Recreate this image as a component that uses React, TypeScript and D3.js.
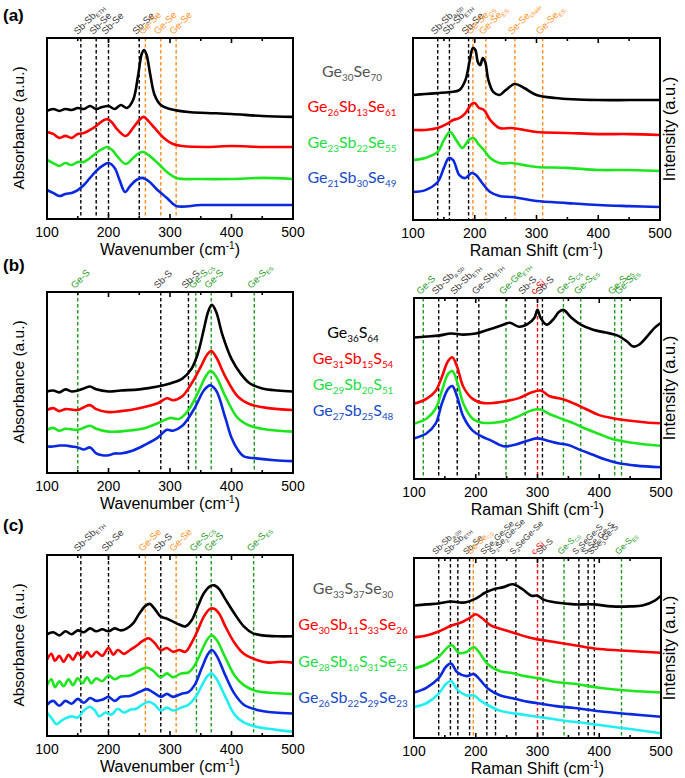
import React from 'react';
import * as d3 from 'd3';

type Pt = [number, number];

// ---------------- DATA (wavenumber / Raman shift in cm-1, intensity in a.u.) ----------------
const X_TICKS = [100, 200, 300, 400, 500];

// (a) FTIR
const aFtirGeSe: Pt[] = [[100,59.7],[110,60.8],[120,59.7],[130,60.8],[140,60.2],[150,61.3],[160,60.8],[170,62.4],[180,60.8],[190,61.9],[200,62.4],[210,60.8],[220,63],[230,61.3],[240,65.7],[248,79],[254,91.2],[258,93.4],[262,90.6],[268,79.6],[275,68.5],[285,63],[300,60.8],[330,59.1],[360,58.6],[400,58],[450,56.9],[500,56.4]];
const aFtirSb13: Pt[] = [[100,48.1],[110,47],[120,44.8],[130,45.9],[140,44.8],[150,47],[160,47.5],[170,49.2],[180,51.4],[190,54.1],[198,55.2],[205,53.6],[215,49.2],[228,45.9],[240,50.3],[250,54.7],[257,56.4],[265,54.1],[275,50.3],[290,44.8],[305,41.4],[320,40.3],[360,39.8],[400,40.3],[450,39.8],[500,39.8]];
const aFtirSb22: Pt[] = [[100,32.6],[110,30.9],[120,29.3],[130,30.9],[140,29.8],[150,31.5],[160,31.5],[170,33.7],[180,36.5],[190,38.7],[198,39.8],[206,38.1],[215,34.3],[228,30.4],[240,33.7],[250,36.5],[257,37],[265,35.4],[280,30.9],[295,26],[310,22.7],[350,22.1],[400,22.1],[450,22.7],[500,22.1]];
const aFtirSb30: Pt[] = [[100,16],[110,14.4],[120,12.7],[130,13.8],[140,14.4],[150,16],[160,18.8],[170,22.7],[180,26.5],[190,29.3],[200,30.9],[210,28.2],[218,21.5],[227,14.9],[235,18.2],[245,21.5],[255,22.7],[265,21],[278,16.6],[295,11.6],[310,7.2],[350,7.7],[400,7.7],[450,7.7],[500,7.7]];
// (a) Raman
const aRamGeSe: Pt[] = [[100,69.7],[120,70.2],[140,70.7],[160,71.3],[175,72.3],[185,77.7],[192,88.3],[197,94.7],[201,93.6],[205,87.2],[209,85.6],[213,89.4],[217,87.2],[222,77.7],[230,71.3],[240,69.7],[250,72.3],[265,75.5],[280,73.4],[300,69.7],[330,68.1],[400,67],[450,67],[500,67]];
const aRamSb13: Pt[] = [[100,51.1],[120,51.1],[140,52.1],[155,54.3],[165,56.4],[175,57.4],[185,60.1],[195,64.9],[200,65.4],[207,62.8],[215,61.7],[225,56.4],[240,52.1],[260,52.1],[280,51.1],[300,50],[350,49.5],[400,48.9],[450,48.9],[500,48.4]];
const aRamSb22: Pt[] = [[100,35.1],[120,36.2],[140,39.4],[150,45.7],[160,50],[170,45.7],[180,41.5],[190,45.7],[198,46.8],[207,43.1],[215,40.4],[225,36.2],[240,33.5],[260,33.5],[280,32.4],[300,31.4],[350,30.9],[400,29.8],[450,29.8],[500,29.3]];
const aRamSb30: Pt[] = [[100,18.1],[120,19.1],[140,23.4],[150,30.9],[158,36.2],[165,35.1],[175,27.1],[185,25.5],[195,28.2],[202,27.1],[212,22.9],[225,18.1],[240,16],[260,15.4],[280,14.4],[300,13.3],[350,12.2],[400,11.2],[450,10.6],[500,10.1]];

// (b) FTIR
const bFtirGeS: Pt[] = [[100,47.1],[110,47.6],[120,46.6],[130,48.2],[140,47.1],[150,47.6],[160,48.7],[170,49.7],[180,48.2],[200,47.1],[220,47.6],[250,48.2],[280,49.7],[300,51.3],[320,53.9],[335,59.2],[345,67],[355,80.1],[362,89.5],[368,93.2],[375,89.5],[385,77.5],[400,64.4],[415,56.5],[430,51.3],[450,48.7],[475,47.6],[500,47.1]];
const bFtirSb15: Pt[] = [[100,37.2],[110,38.2],[120,36.6],[130,37.7],[150,37.2],[160,38.7],[170,39.8],[180,37.7],[200,36.1],[220,36.6],[250,38.2],[280,40.8],[295,43.5],[305,42.4],[320,44.5],[335,51.3],[350,60.2],[360,66.5],[367,68.6],[375,65.4],[390,55],[410,44.5],[430,40.3],[460,38.2],[500,37.2]];
const bFtirSb20: Pt[] = [[100,26.7],[110,27.7],[120,26.2],[130,27.2],[150,26.7],[170,28.8],[180,27.2],[200,25.7],[230,26.2],[260,27.7],[285,30.9],[300,33],[315,32.5],[330,37.2],[345,46.1],[358,55],[366,58.1],[375,55],[390,44.5],[410,33],[430,28.8],[460,26.7],[500,25.7]];
const bFtirSb25: Pt[] = [[100,17.8],[110,17.8],[120,18.3],[130,18.3],[140,17.8],[150,17.3],[160,16.2],[170,17.3],[180,14.1],[190,13.1],[200,13.1],[210,14.1],[220,14.1],[240,15.7],[260,18.8],[280,22.5],[295,26.7],[305,26.2],[320,28.8],[340,38.2],[355,47.6],[365,50.3],[375,47.6],[390,33],[400,22.5],[410,16.2],[420,12.5],[440,11.5],[470,10.5],[500,10]];
// (b) Raman
const bRamGeS: Pt[] = [[100,79.1],[120,79.6],[140,80.1],[160,81.2],[180,80.6],[200,81.2],[220,83.2],[240,85.3],[255,86.9],[270,84.8],[285,86.4],[295,89.5],[300,93.7],[305,89.5],[315,85.9],[325,88.5],[335,92.7],[342,93.7],[355,89.5],[370,85.9],[390,83.2],[410,81.7],[430,80.1],[445,77],[455,74.3],[465,75.4],[480,80.6],[490,84.3],[500,86.9]];
const bRamSb15: Pt[] = [[100,44],[120,46.6],[135,50.8],[145,58.1],[155,66.5],[162,68.6],[170,63.4],[180,52.9],[195,46.6],[210,44.5],[230,44.5],[250,45.5],[270,47],[290,50],[305,51],[320,48],[340,46.5],[360,44],[380,41],[400,38],[420,36.5],[450,35],[480,34],[500,33.7]];
const bRamSb20: Pt[] = [[100,33.5],[120,36.1],[135,41.4],[145,50.8],[155,59.7],[162,61.3],[170,55.5],[180,44],[195,36.1],[210,34],[230,34],[250,35],[270,37.5],[290,40.5],[305,41],[320,38.5],[340,36],[360,33.5],[380,30.5],[400,28],[420,25.5],[450,23.5],[480,22.3],[500,21.8]];
const bRamSb25: Pt[] = [[100,25.7],[120,28.3],[135,33.5],[145,44],[155,51.8],[162,53.4],[170,47.6],[180,37.2],[195,29.8],[210,26.7],[225,24.5],[245,21.5],[265,22.5],[285,24.6],[300,25.7],[315,24.6],[335,23],[350,22.2],[370,19.5],[390,17],[410,14.5],[430,12.7],[460,11.3],[500,10.4]];

// (c) FTIR
const cFtirGeSSe: Pt[] = [[100,56.7],[110,57.8],[120,56.1],[130,58.3],[140,56.7],[150,58.8],[160,57.8],[170,59.9],[180,58.3],[190,59.4],[200,58.3],[210,59.9],[220,58.8],[230,59.9],[240,62.6],[250,67.9],[260,72.2],[267,73.3],[275,70.6],[285,66.3],[295,65.2],[305,63.6],[315,62],[325,61],[335,64.2],[345,71.7],[355,79.1],[365,82.9],[372,83.4],[380,81.3],[390,75.9],[405,67.9],[420,61],[435,57.2],[450,56.1],[475,55.6],[500,55.6]];
const cFtirSb11: Pt[] = [[100,42.8],[107,46],[113,42.2],[120,44.9],[127,41.7],[135,45.5],[142,42.8],[150,46.5],[158,43.9],[165,47.1],[172,44.4],[180,47.1],[190,44.9],[200,49.2],[208,45.5],[215,48.1],[225,46],[235,48.1],[245,50.3],[255,52.9],[265,54.5],[275,51.9],[285,48.1],[295,49.2],[305,47.1],[315,48.1],[325,47.1],[335,51.9],[345,58.8],[355,66.3],[365,70.6],[372,70.6],[380,67.9],[390,61],[405,51.9],[420,46],[440,42.8],[460,41.2],[480,41.7],[500,41.2]];
const cFtirSb16: Pt[] = [[100,28.9],[107,32.1],[113,27.8],[120,31],[127,28.3],[135,32.1],[142,28.9],[150,32.6],[158,29.9],[165,33.2],[172,29.9],[180,32.6],[190,31],[200,34.2],[210,32.1],[220,33.7],[235,34.2],[250,36.9],[262,38.5],[272,36.9],[285,33.2],[295,35.3],[305,33.2],[318,35.3],[330,35.8],[340,39.6],[352,48.1],[362,54.5],[368,56.1],[376,53.5],[390,43.9],[405,34.2],[420,28.9],[440,25.7],[470,24.6],[500,24.1]];
const cFtirSb22: Pt[] = [[100,18.2],[110,20.3],[120,17.6],[130,20.3],[140,18.7],[150,21.4],[160,19.3],[170,21.9],[180,20.3],[190,20.9],[200,22.5],[210,20.3],[220,22.5],[235,23],[250,25.1],[262,26.7],[272,25.1],[285,22.5],[295,24.1],[305,22.5],[318,24.1],[330,25.1],[340,28.9],[352,38.5],[362,46],[368,48.1],[376,44.9],[390,34.2],[405,24.1],[420,18.2],[440,15.5],[470,13.9],[500,13.4]];
const cFtirCyan: Pt[] = [[100,13.9],[108,10.7],[115,7.5],[122,9.1],[130,10.7],[140,11.8],[150,11.2],[160,15],[170,17.1],[178,15],[185,11.8],[195,13.9],[205,12.8],[215,16],[225,13.9],[235,15.5],[245,16],[255,18.2],[265,19.8],[275,18.2],[285,15],[295,16.6],[305,15],[318,16.6],[330,18.2],[342,22.5],[352,28.9],[362,34.2],[368,35.3],[376,32.1],[390,22.5],[405,12.8],[420,8.5],[440,6.2],[470,4.6],[500,3.4]];
// (c) Raman
const cRamGeSSe: Pt[] = [[100,73.9],[120,74.5],[140,75],[160,76.1],[180,75.5],[200,77.7],[215,80.9],[230,83],[245,84],[260,85.6],[275,83],[290,79.3],[300,79.3],[310,77.1],[330,75.5],[360,74.5],[390,74.5],[420,73.4],[450,73.4],[470,73.9],[490,76.6],[500,79.3]];
const cRamSb11: Pt[] = [[100,56.4],[120,57.4],[140,59.6],[160,62.8],[175,64.4],[190,67],[200,69.1],[210,67],[225,62.8],[245,60.6],[265,58.5],[285,56.4],[300,55.3],[330,53.7],[360,52.1],[400,50],[450,48.9],[500,47.9]];
const cRamSb16: Pt[] = [[100,39.4],[120,41.5],[140,45.7],[155,51.1],[162,52.1],[172,47.9],[185,48.4],[197,51.1],[205,48.4],[220,41.5],[240,37.8],[260,36.7],[280,35.1],[300,34],[330,31.9],[360,30.9],[400,28.7],[450,27.1],[500,26.1]];
const cRamSb22: Pt[] = [[100,26.1],[120,28.7],[140,34],[152,40.4],[160,42],[170,37.2],[185,35.1],[197,36.2],[207,33],[220,28.2],[240,24.5],[260,22.9],[280,21.3],[300,20.2],[330,18.6],[360,17.6],[400,15.8],[450,14.2],[500,12.8]];
const cRamCyan: Pt[] = [[100,18.1],[120,20.2],[140,25.5],[152,30.9],[160,32.4],[170,27.7],[185,24.5],[197,24.5],[207,21.8],[220,19.1],[240,16],[265,14.5],[300,12.8],[343,10.6],[370,9.6],[400,8.2],[450,6],[500,3.7]];

// composition labels
const aNames = ['Ge_{30}Se_{70}', 'Ge_{26}Sb_{13}Se_{61}', 'Ge_{23}Sb_{22}Se_{55}', 'Ge_{21}Sb_{30}Se_{49}'];
const bNames = ['Ge_{36}S_{64}', 'Ge_{31}Sb_{15}S_{54}', 'Ge_{29}Sb_{20}S_{51}', 'Ge_{27}Sb_{25}S_{48}'];
const cNames = ['Ge_{33}S_{37}Se_{30}', 'Ge_{30}Sb_{11}S_{33}Se_{26}', 'Ge_{28}Sb_{16}S_{31}Se_{25}', 'Ge_{26}Sb_{22}S_{29}Se_{23}'];

// vibrational mode markers: [position, colour key, label]
type Mark = [number, string, string];
const aFtirMarks: Mark[] = [[155,'k','Sb-Sb_{ETH}'],[180,'k','Sb-Se'],[200,'k','Sb-Se'],[250,'k','Sb-Se'],[260,'o','Ge-Se'],[285,'o','Ge-Se'],[310,'o','Ge-Se']];
const aRamMarks: Mark[] = [[140,'k','Sb-Sb_{a-Sb}'],[159,'k','Sb-Sb_{ETH}'],[190,'k','Sb-Se'],[197,'o','Ge-Se_{CS}'],[218,'o','Ge-Se_{ES}'],[265,'o','Se-Se_{chain}'],[310,'o','Ge-Se_{ES}']];
const bFtirMarks: Mark[] = [[150,'g','Ge-S'],[285,'k','Sb-S'],[330,'k','Sb-S'],[342,'g','Ge-S_{CS}'],[367,'g','Ge-S'],[437,'g','Ge-S_{ES}']];
const bRamMarks: Mark[] = [[115,'g','Ge-S'],[140,'k','Sb-Sb_{a-Sb}'],[170,'k','Sb-Sb_{ETH}'],[205,'k','Ge-Sb_{ETH}'],[249,'g','Ge-Ge_{ETH}'],[280,'k','Sb-S'],[300,'r','c-Si'],[308,'k','Sb-S'],[342,'g','Ge-S_{CS}'],[370,'g','Ge-S_{ES}'],[425,'g','Ge-S_{CS}'],[436,'g','Ge-S_{ES}']];
const cFtirMarks: Mark[] = [[155,'k','Sb-Sb_{ETH}'],[200,'k','Sb-Se'],[260,'o','Ge-Se'],[285,'k','Sb-S'],[310,'o','Ge-Se'],[343,'g','Ge-S_{CS}'],[367,'g','Ge-S'],[436,'g','Ge-S_{ES}']];
const cRamMarks: Mark[] = [[140,'k','Sb-Sb_{a-Sb}'],[159,'k','Sb-Sb_{ETH}'],[171,'k',''],[190,'k','Sb-Se'],[196,'o','Ge-Se_{CS}'],[218,'k','SSe_{3}Ge-Se'],[232,'k','S_{2}Se_{2}Ge-Se'],[265,'k','S_{3}SeGe-Se'],[300,'r','c-Si'],[309,'k','Sb-S'],[343,'g','Ge-S_{CS}'],[367,'k','S_{3}SeGe-S'],[382,'k','S_{2}Se_{2}Ge-S'],[392,'k','SSe_{3}Ge-S'],[436,'g','Ge-S_{ES}']];

// ---------------- STYLE ----------------
const AX_FONT = "'Liberation Sans', Arial, sans-serif";
const LEG_FONT = "Lato, 'Open Sans', sans-serif";
const LINE_COL: Record<string, string> = { k: '#000000', r: '#ff0000', g: '#1ee61e', b: '#0a28e0', c: '#20eef0' };
const MARK_COL: Record<string, string> = { k: '#000000', o: '#ff8c1a', g: '#1a9a1a', r: '#ff0000' };
const MARK_TXT: Record<string, string> = { k: '#3a3a3a', o: '#ff9326', g: '#1f9a1f', r: '#ff0000' };

function parseFormula(s: string) {
  const out: { t: string; sub: boolean }[] = [];
  const re = /_\{([^}]*)\}/g;
  let last = 0;
  let m: RegExpExecArray | null;
  while ((m = re.exec(s))) {
    if (m.index > last) out.push({ t: s.slice(last, m.index), sub: false });
    out.push({ t: m[1], sub: true });
    last = m.index + m[0].length;
  }
  if (last < s.length) out.push({ t: s.slice(last), sub: false });
  return out;
}

function Formula(props: { text: string; x?: number; y?: number; size: number; subSize: number; shift: number; fill: string; anchor?: string; family: string }) {
  const parts = parseFormula(props.text);
  let prev = false;
  return (
    <text x={props.x ?? 0} y={props.y ?? 0} fontSize={props.size} fill={props.fill} textAnchor={props.anchor ?? 'start'} fontFamily={props.family}>
      {parts.map((p, i) => {
        const dy = (p.sub ? props.shift : 0) - (prev ? props.shift : 0);
        prev = p.sub;
        return (
          <tspan key={i} dy={dy} fontSize={p.sub ? props.subSize : props.size}>
            {p.t}
          </tspan>
        );
      })}
    </text>
  );
}

interface PanelProps {
  x0: number; x1: number; y0: number; y1: number; yLo: number; labelSize: number;
  series: { data: Pt[]; col: string }[];
  marks: Mark[];
  xTitle: string;
}

function Panel({ x0, x1, y0, y1, yLo, labelSize, series, marks, xTitle }: PanelProps) {
  const x = d3.scaleLinear().domain([100, 500]).range([x0, x1]);
  const y = d3.scaleLinear().domain([yLo, 100]).range([y1, y0]);
  const line = d3.line<Pt>().x(d => x(d[0])).y(d => y(d[1])).curve(d3.curveCatmullRom.alpha(0.5));
  const minor = d3.range(100, 501, 50);
  return (
    <g>
      {marks.map((m, i) => (
        <line key={'d' + i} x1={x(m[0])} x2={x(m[0])} y1={y0} y2={y1} stroke={MARK_COL[m[1]]} strokeWidth={1.4} strokeDasharray="3.5,2.5" />
      ))}
      {series.map((s, i) => (
        <path key={'s' + i} d={line(s.data) ?? ''} fill="none" stroke={LINE_COL[s.col]} strokeWidth={2.6} strokeLinejoin="round" />
      ))}
      <rect x={x0} y={y0} width={x1 - x0} height={y1 - y0} fill="none" stroke="#000" strokeWidth={2} />
      {minor.map(v => {
        const len = v % 100 === 0 ? 5 : 3;
        return (
          <g key={'t' + v}>
            <line x1={x(v)} x2={x(v)} y1={y1} y2={y1 - len} stroke="#000" strokeWidth={1.6} />
            <line x1={x(v)} x2={x(v)} y1={y0} y2={y0 + len} stroke="#000" strokeWidth={1.6} />
          </g>
        );
      })}
      {X_TICKS.map(v => (
        <text key={'l' + v} x={x(v)} y={y1 + 18} fontSize={14} textAnchor="middle" fontFamily={AX_FONT} fill="#000">{v}</text>
      ))}
      <text x={(x0 + x1) / 2} y={y1 + 36} fontSize={16} textAnchor="middle" fontFamily={AX_FONT} fill="#000">
        {xTitle} (cm<tspan fontSize={10} dy={-6}>-1</tspan><tspan dy={6}>)</tspan>
      </text>
      {marks.filter(m => m[2]).map((m, i) => (
        <g key={'m' + i} transform={`translate(${x(m[0]) - 3},${y0 - 3}) rotate(-45)`}>
          <Formula text={m[2]} size={labelSize} subSize={labelSize * 0.63} shift={2.2} fill={MARK_TXT[m[1]]} family={AX_FONT} />
        </g>
      ))}
    </g>
  );
}

function Legend({ names, cols, cx, y, gap, size }: { names: string[]; cols: string[]; cx: number; y: number; gap: number; size: number }) {
  return (
    <g>
      {names.map((n, i) => (
        <Formula key={i} text={n} x={cx} y={y + i * gap} size={size} subSize={size * 0.62} shift={4} fill={cols[i]} anchor="middle" family={LEG_FONT} />
      ))}
    </g>
  );
}

const LEG_COLS_A = ['#555555', '#ff0000', '#22dd44', '#1a4cc4'];
const LEG_COLS_B = ['#000000', '#ff0000', '#22dd44', '#1a4cc4'];

export default function App() {
  const W = 685, H = 778;
  const four = ['k', 'r', 'g', 'b'];
  const five = ['k', 'r', 'g', 'b', 'c'];
  const mk = (arr: Pt[][], cols: string[]) => arr.map((d, i) => ({ data: d, col: cols[i] }));
  const yLabel = (txt: string, cx: number, cy: number, size: number, key: string) => (
    <text key={key} transform={`translate(${cx},${cy}) rotate(-90)`} fontSize={size} textAnchor="middle" fontFamily={AX_FONT} fill="#000">{txt}</text>
  );
  return (
    <svg width={W} height={H} viewBox={`0 0 ${W} ${H}`} style={{ display: 'block', position: 'absolute', left: 0, top: 0, background: '#fff' }}>
      <rect width={W} height={H} fill="#fff" />
      <text x={3} y={21} fontSize={17} fontWeight="bold" fontFamily={AX_FONT}>(a)</text>
      <text x={3} y={271} fontSize={17} fontWeight="bold" fontFamily={AX_FONT}>(b)</text>
      <text x={3} y={531} fontSize={17} fontWeight="bold" fontFamily={AX_FONT}>(c)</text>

      <Panel x0={47} x1={293} y0={38} y1={219} yLo={0} labelSize={9.5} series={mk([aFtirGeSe, aFtirSb13, aFtirSb22, aFtirSb30], four)} marks={aFtirMarks} xTitle="Wavenumber" />
      <Panel x0={413} x1={660} y0={38} y1={220} yLo={3.2} labelSize={9.5} series={mk([aRamGeSe, aRamSb13, aRamSb22, aRamSb30], four)} marks={aRamMarks} xTitle="Raman Shift" />
      <Panel x0={47} x1={293} y0={292} y1={473} yLo={3.7} labelSize={9.5} series={mk([bFtirGeS, bFtirSb15, bFtirSb20, bFtirSb25], four)} marks={bFtirMarks} xTitle="Wavenumber" />
      <Panel x0={414} x1={661} y0={298} y1={479} yLo={4.2} labelSize={9.5} series={mk([bRamGeS, bRamSb15, bRamSb20, bRamSb25], four)} marks={bRamMarks} xTitle="Raman Shift" />
      <Panel x0={47} x1={293} y0={555} y1={736} yLo={1.1} labelSize={9.5} series={mk([cFtirGeSSe, cFtirSb11, cFtirSb16, cFtirSb22, cFtirCyan], five)} marks={cFtirMarks} xTitle="Wavenumber" />
      <Panel x0={414} x1={661} y0={558} y1={738} yLo={1.1} labelSize={8.5} series={mk([cRamGeSSe, cRamSb11, cRamSb16, cRamSb22, cRamCyan], five)} marks={cRamMarks} xTitle="Raman Shift" />

      {yLabel('Absorbance (a.u.)', 24, 128, 15.5, 'ya')}
      {yLabel('Absorbance (a.u.)', 24, 382, 15.5, 'yb')}
      {yLabel('Absorbance (a.u.)', 24, 645, 15.5, 'yc')}
      {yLabel('Intensity (a.u.)', 675, 129, 16.5, 'ia')}
      {yLabel('Intensity (a.u.)', 675, 388, 16.5, 'ib')}
      {yLabel('Intensity (a.u.)', 675, 648, 16.5, 'ic')}

      <Legend names={aNames} cols={LEG_COLS_A} cx={352} y={77} gap={35.3} size={16} />
      <Legend names={bNames} cols={LEG_COLS_B} cx={353} y={338} gap={26} size={16} />
      <Legend names={cNames} cols={LEG_COLS_A} cx={353} y={594} gap={36.3} size={16} />
    </svg>
  );
}
